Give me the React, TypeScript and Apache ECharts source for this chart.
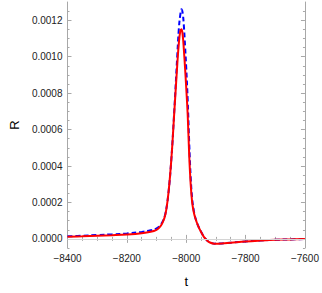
import React, { useEffect, useRef } from "react";
import * as echarts from "echarts";

const tValues = [-8400, -8350, -8300, -8250, -8200, -8150, -8120, -8100, -8090, -8080, -8070, -8060, -8050, -8040, -8030, -8025, -8020, -8016, -8012, -8008, -8004, -8000, -7995, -7990, -7985, -7980, -7975, -7970, -7960, -7950, -7940, -7930, -7920, -7905, -7880, -7850, -7800, -7750, -7700, -7650, -7600];

const redValues = [0.000012, 0.000014, 0.000017, 0.00002, 0.000024, 0.000031, 0.000039, 0.00005, 0.000063, 0.000088, 0.000135, 0.00025, 0.00044, 0.0007, 0.00096, 0.00107, 0.00114, 0.00115, 0.00112, 0.00104, 0.00094, 0.00083, 0.00068, 0.00046, 0.0003, 0.0002, 0.00015, 0.000117, 0.000071, 0.000038, 0.00001, -0.000008, -0.00002, -0.000026, -0.000025, -0.000021, -0.000014, -0.000009, -0.000005, -0.000003, -0.000001];

const blueValues = [0.000014, 0.000017, 0.000021, 0.000025, 0.00003, 0.000038, 0.000047, 0.000058, 0.00007, 0.000093, 0.00014, 0.00025, 0.00044, 0.00071, 0.00101, 0.00115, 0.00123, 0.00126, 0.00124, 0.00117, 0.00106, 0.00094, 0.00076, 0.00053, 0.00034, 0.00022, 0.00016, 0.00012, 0.000073, 0.00004, 0.00001, -0.000008, -0.00002, -0.000026, -0.000025, -0.000021, -0.000014, -0.000009, -0.000005, -0.000003, -0.000001];

const xTicks = [-8400, -8200, -8000, -7800, -7600];
const xMinorTicks = [-8350, -8300, -8250, -8150, -8100, -8050, -7950, -7900, -7850, -7750, -7700, -7650];
const yTicks = [0, 0.0002, 0.0004, 0.0006, 0.0008, 0.001, 0.0012];
const yMinorTicks = [-0.00005, 0.00005, 0.0001, 0.00015, 0.00025, 0.0003, 0.00035, 0.00045, 0.0005, 0.00055, 0.00065, 0.0007, 0.00075, 0.00085, 0.0009, 0.00095, 0.00105, 0.0011, 0.00115, 0.00125];

const X_MIN = -8400;
const X_MAX = -7600;
const Y_MIN = -0.00005;
const Y_MAX = 0.0013;

const FRAME = "#a8a8a8";
const FONT = "Liberation Sans";

export default function App() {
  const ref = useRef<HTMLDivElement>(null);
  useEffect(() => {
    if (!ref.current) return;
    const chart = echarts.init(ref.current, null, { renderer: "svg" });
    const fmtX = (v: number) => (v < 0 ? "\u2212" + Math.abs(v) : String(v));
    const xAxisBase = (pos: "bottom" | "top", labels: boolean, major: boolean) => ({
      type: "value",
      position: pos,
      min: X_MIN,
      max: X_MAX,
      axisLine: { show: major, lineStyle: { color: FRAME, width: 1 } },
      axisTick: {
        show: true,
        inside: true,
        length: major ? 4 : 2,
        customValues: major ? xTicks : xMinorTicks,
        lineStyle: { color: FRAME },
      },
      axisLabel: {
        show: labels,
        customValues: xTicks,
        formatter: fmtX,
        color: "#222",
        fontSize: 10,
        fontFamily: FONT,
        margin: 5,
      },
      splitLine: { show: false },
    });
    const yAxisBase = (pos: "left" | "right", labels: boolean, major: boolean) => ({
      type: "value",
      position: pos,
      min: Y_MIN,
      max: Y_MAX,
      axisLine: { show: major, lineStyle: { color: FRAME, width: 1 } },
      axisTick: {
        show: true,
        inside: true,
        length: major ? 4 : 2,
        customValues: major ? yTicks : yMinorTicks,
        lineStyle: { color: FRAME },
      },
      axisLabel: {
        show: labels,
        customValues: yTicks,
        formatter: (v: number) => v.toFixed(4),
        color: "#222",
        fontSize: 10,
        fontFamily: FONT,
        margin: 5,
      },
      splitLine: { show: false },
    });
    const xMain: any = { ...xAxisBase("bottom", true, true), name: "t", nameLocation: "middle", nameGap: 27, nameTextStyle: { fontSize: 13, color: "#000", fontFamily: FONT } };
    const yMain: any = { ...yAxisBase("left", true, true), name: "R", nameLocation: "middle", nameGap: 42, nameRotate: 90, nameTextStyle: { fontSize: 13, color: "#000", fontFamily: FONT } };
    chart.setOption({
      animation: false,
      backgroundColor: "#fff",
      grid: { left: 52, right: 14, top: 2, bottom: 34, containLabel: false },
      xAxis: [xMain, xAxisBase("bottom", false, false), xAxisBase("top", false, true), xAxisBase("top", false, false)],
      yAxis: [yMain, yAxisBase("left", false, false), yAxisBase("right", false, true), yAxisBase("right", false, false)],
      series: [
        {
          type: "line",
          xAxisIndex: 0,
          yAxisIndex: 0,
          data: tValues.map((t, i) => [t, blueValues[i]]),
          showSymbol: false,
          smooth: 0.4,
          lineStyle: { color: "#0000ff", width: 2, type: [5, 3] },
          markLine: {
            silent: true,
            symbol: "none",
            label: { show: false },
            lineStyle: { color: "#d4d4d4", width: 1, type: "solid" },
            data: [{ yAxis: 0 }],
          },
          z: 2,
        },
        {
          type: "line",
          xAxisIndex: 0,
          yAxisIndex: 0,
          data: tValues.map((t, i) => [t, redValues[i]]),
          showSymbol: false,
          smooth: 0.4,
          lineStyle: { color: "#ff0000", width: 2 },
          z: 3,
        },
      ],
    });
    return () => chart.dispose();
  }, []);
  return <div ref={ref} style={{ width: 322, height: 293, position: "absolute", left: 0, top: 0 }} />;
}
